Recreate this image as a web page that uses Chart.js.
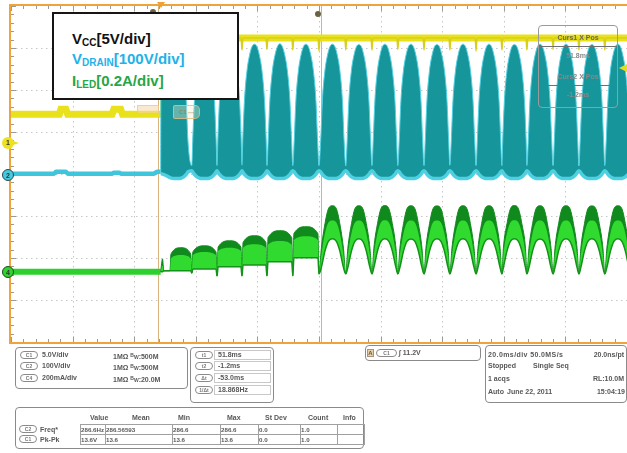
<!DOCTYPE html>
<html><head><meta charset="utf-8">
<script src="https://cdn.jsdelivr.net/npm/chart.js@4/dist/chart.umd.min.js"></script>
<style>
html,body{margin:0;padding:0;background:#fff;overflow:hidden;width:627px;height:453px;}
#wrap{position:relative;width:627px;height:453px;font-family:"Liberation Sans",Arial,sans-serif;}
canvas{position:absolute;left:0;top:0;}
.a{position:absolute;}
.box{position:absolute;border:1px solid #8a8a8a;border-radius:4px;box-sizing:border-box;}
.t{position:absolute;font-weight:bold;font-size:8px;color:#575757;white-space:nowrap;line-height:8px;}
.s7{font-size:7px;}
.s65{font-size:6.2px;}
.r{text-align:right;}
.pill{position:absolute;border:1px solid #8a8a8a;border-radius:5px;height:8px;box-sizing:border-box;font-weight:bold;font-size:5px;line-height:6px;color:#777;text-align:center;}
.cell{position:absolute;border:1px solid #a0a0a0;box-sizing:border-box;height:10px;}
#legend{position:absolute;left:52px;top:12px;width:187px;height:88px;border:2px solid #151515;background:#fff;box-sizing:border-box;}
#legend div{position:absolute;left:18px;font-weight:bold;font-size:15px;line-height:15px;white-space:nowrap;}
#legend sub{font-size:10px;vertical-align:-2px;}
.mk{position:absolute;width:12px;height:12px;border-radius:50%;box-sizing:border-box;font-size:7px;font-weight:bold;text-align:center;line-height:11px;color:#333;}
</style></head><body>
<div id="wrap">
<canvas id="c" width="627" height="453"></canvas>

<!-- cursor labels (faded) -->
<div class="a" style="left:137px;top:105px;width:20px;height:7px;background:rgba(245,215,170,0.55);border:1px solid rgba(230,190,140,0.6);"></div>
<div class="a" style="left:173px;top:105px;width:25px;height:12px;border:1px solid rgba(225,190,130,0.8);border-radius:2px 5px 5px 2px;background:rgba(250,235,200,0.35);font-size:6px;color:rgba(150,120,70,0.7);line-height:12px;text-align:center;font-weight:bold;">C1 ⋯</div>

<!-- cursor readout -->
<div class="box" style="left:538px;top:25px;width:80px;height:83px;border-color:#9a9a9a;"></div>
<div class="a" style="left:539px;top:46px;width:78px;height:1px;background:#707070;"></div>
<div class="a" style="left:539px;top:85px;width:78px;height:1px;background:#707070;"></div>
<div class="t" style="left:538px;width:80px;text-align:center;top:34px;font-size:7px;color:#6d6a40;">Curs1 X Pos</div>
<div class="t" style="left:538px;width:80px;text-align:center;top:52px;font-size:7px;color:#888;">51.8ms</div>
<div class="t" style="left:538px;width:80px;text-align:center;top:73px;font-size:7px;color:#888;">Curs2 X Pos</div>
<div class="t" style="left:538px;width:80px;text-align:center;top:91px;font-size:7px;color:#888;">-1.2ms</div>

<!-- top markers -->
<div class="a" style="left:150px;top:9px;width:6px;height:6px;border-radius:50%;background:#6b6340;"></div>
<div class="a" style="left:315px;top:11px;width:6px;height:6px;border-radius:50%;background:#6b6340;"></div>
<div class="a" style="left:157px;top:2px;width:0;height:0;border-left:4px solid transparent;border-right:4px solid transparent;border-top:6px solid #f0a030;"></div>
<!-- trigger level arrow -->
<div class="a" style="left:619px;top:64px;width:0;height:0;border-top:4px solid transparent;border-bottom:4px solid transparent;border-right:8px solid #e6dc20;"></div>

<!-- channel markers -->
<div class="a" style="left:10px;top:140px;width:0;height:0;border-top:3px solid transparent;border-bottom:3px solid transparent;border-left:9px solid #e8df1e;"></div>
<div class="mk" style="left:2px;top:137px;background:#ece31e;">1</div>
<div class="mk" style="left:2px;top:169px;background:#45cbe0;border:1.5px solid #2a4a50;">2</div>
<div class="mk" style="left:2px;top:266px;background:#2fd22f;border:1.5px solid #1c4a1c;">4</div>

<!-- legend -->
<div id="legend">
  <div style="top:17px;color:#111;">V<sub>CC</sub>[5V/div]</div>
  <div style="top:37px;color:#22b2e8;">V<sub>DRAIN</sub>[100V/div]</div>
  <div style="top:59px;color:#27a646;">I<sub>LED</sub>[0.2A/div]</div>
</div>

<!-- bottom panel: channel box -->
<div class="box" style="left:15px;top:347px;width:173px;height:42px;"></div>
<div class="pill" style="left:20px;top:351px;width:18px;">C1</div>
<div class="t s7" style="left:42px;top:351px;">5.0V/div</div>
<div class="t s7" style="left:113px;top:351px;">1MΩ <span style="font-size:5px;vertical-align:2px">B</span><span style="font-size:5px">W</span>:500M</div>
<div class="pill" style="left:20px;top:362px;width:18px;">C2</div>
<div class="t s7" style="left:42px;top:362px;">100V/div</div>
<div class="t s7" style="left:113px;top:362px;">1MΩ <span style="font-size:5px;vertical-align:2px">B</span><span style="font-size:5px">W</span>:500M</div>
<div class="pill" style="left:20px;top:374px;width:18px;">C4</div>
<div class="t s7" style="left:42px;top:374px;">200mA/div</div>
<div class="t s7" style="left:113px;top:374px;">1MΩ <span style="font-size:5px;vertical-align:2px">B</span><span style="font-size:5px">W</span>:20.0M</div>

<!-- cursor box -->
<div class="box" style="left:190px;top:347px;width:84px;height:56px;"></div>
<div class="cell" style="left:214px;top:350px;width:57px;border-color:#c8c8c8;"></div>
<div class="cell" style="left:214px;top:361px;width:57px;border-color:#c8c8c8;"></div>
<div class="cell" style="left:214px;top:373px;width:57px;border-color:#c8c8c8;"></div>
<div class="cell" style="left:214px;top:385px;width:57px;border-color:#c8c8c8;"></div>
<div class="pill" style="left:195px;top:351px;width:18px;">t1</div>
<div class="t s7" style="left:218px;top:351px;">51.8ms</div>
<div class="pill" style="left:195px;top:362px;width:18px;">t2</div>
<div class="t s7" style="left:218px;top:362px;">-1.2ms</div>
<div class="pill" style="left:195px;top:374px;width:18px;">Δt</div>
<div class="t s7" style="left:218px;top:374px;">-53.0ms</div>
<div class="pill" style="left:195px;top:386px;width:18px;">1/Δt</div>
<div class="t s7" style="left:218px;top:386px;">18.868Hz</div>

<!-- trigger box -->
<div class="box" style="left:365px;top:345px;width:116px;height:16px;"></div>
<div class="a" style="left:367px;top:349px;width:7px;height:8px;background:#e9cfa8;border:1px solid #b09070;box-sizing:border-box;font-size:6px;font-weight:bold;line-height:7px;text-align:center;color:#555;">A</div>
<div class="pill" style="left:376px;top:349px;width:21px;">C1</div>
<div class="t s7" style="left:399px;top:349px;">∫ 11.2V</div>

<!-- timebase box -->
<div class="box" style="left:485px;top:345px;width:142px;height:58px;"></div>
<div class="t s7" style="left:488px;top:351px;letter-spacing:0.4px;">20.0ms/div 50.0MS/s</div>
<div class="t s7 r" style="left:580px;width:44px;top:351px;">20.0ns/pt</div>
<div class="t s7" style="left:488px;top:362px;">Stopped</div>
<div class="t s7" style="left:533px;top:362px;">Single Seq</div>
<div class="t s7" style="left:488px;top:375px;">1 acqs</div>
<div class="t s7 r" style="left:580px;width:44px;top:375px;">RL:10.0M</div>
<div class="t s7" style="left:488px;top:388px;">Auto</div>
<div class="t s7" style="left:507px;top:388px;">June 22, 2011</div>
<div class="t s7 r" style="left:580px;width:45px;top:388px;">15:04:19</div>

<!-- measurement table -->
<div class="box" style="left:15px;top:407px;width:349px;height:42px;"></div>
<div class="t s7" style="left:90px;top:414px;">Value</div>
<div class="t s7" style="left:132px;top:414px;">Mean</div>
<div class="t s7" style="left:178px;top:414px;">Min</div>
<div class="t s7" style="left:227px;top:414px;">Max</div>
<div class="t s7" style="left:265px;top:414px;">St Dev</div>
<div class="t s7" style="left:308px;top:414px;">Count</div>
<div class="t s7" style="left:343px;top:414px;">Info</div>
<div id="rows"></div>
</div>

<script>
// ---------------- data ----------------
// time axis (ms) and cursors
const xMin = -49, xMax = 151, msPerDiv = 20;
const cursorT = [-1.2, 51.8];

// channel scales (units per division) and ground-marker positions (divisions above bottom)
const vccPerDiv = 5, drainPerDiv = 100, iledPerDiv = 0.2;
const vccGroundDiv = 4.73, drainGroundDiv = 3.96, iledGroundDiv = 1.67;

// VCC (V)
const vccT = [-49, -33.3, -32.8, -31.2, -30.6, -16.2, -15.6, -13.4, -12.8, 0.6, 0.9, 151];
const vccV = [3.46, 3.46, 4.06, 4.06, 3.46, 3.46, 4.06, 4.06, 3.46, 3.46, 12.54, 12.54];
const vccLevelV = 12.54;
const vccDipV = [11.2, 11.1, 11.1, 11.2, 11.1, 11.0, 11.1, 11.1, 11.2, 11.1, 11.1, 11.0, 11.1, 11.1, 11.2, 11.1, 11.1, 11.1];

// VDRAIN (V)
const drainPreT = [-49, -35.0, -34.4, -31.2, -30.6, -16.2, -15.6, -13.8, -13.2, -2.6, -1.6, -0.4];
const drainPreV = [4.8, 4.8, 9.5, 9.5, 4.8, 4.8, 7.2, 7.2, 4.8, 4.8, 9.5, 9.5];
const drainGapT = [-0.4, 9.7, 17.9, 26.0, 34.1, 42.5, 51.0, 59.7, 68.2, 76.6, 85.1, 93.5, 102.0, 110.4, 118.5, 127.0, 135.4, 143.8, 152.3];
const drainGapV = [9.5, 24, 24, 25, 24, 24, 24, 23, 24, 24, 24, 25, 24, 24, 24, 24, 23, 24, 24];
const drainPeakV = [313, 313, 312, 313, 314, 313, 313, 312, 313, 313, 312, 313, 313, 312, 313, 313, 312, 313];
const drainEdgeDt = [3.8, 3.25, 2.43, 1.62, 0.81];
const drainEdgeV = [83, 179, 250, 286, 307];
const drainRiseT = -0.3, drainRiseV = 262;
const drainFloorGapV = [4.8, 12, 12, 12, 12, 12, 12, 12, 12, 12, 12, 12, 12, 12, 12, 12, 12, 12, 12];
const drainFloorEdgeV = [9, 3, -3, -6, -7];
const drainFloorV = [-7, -7, -7, -7, -7, -7, -7, -7, -7, -7, -7, -7, -7, -7, -7, -7, -7, -7];

// ILED (A)
const iledPreT = [-49, -0.4];
const iledPreV = [0, 0];
const startT = [-0.4, 0.2, 0.6];
const startUpV = [0, 0.062, 0.005];
const startMidV = [0, 0.03, 0.005];
const startLowV = [0, 0, 0.005];
const bumpGapT = [2.6, 9.7, 17.9, 26.0, 34.1, 42.5, 51.0];
const bumpSpikeV = [0.005, -0.006, -0.019, -0.019, -0.019, -0.019];
const bumpTopV = [0.115, 0.124, 0.148, 0.172, 0.196, 0.215];
const bumpShoulderV = [0.085, 0.095, 0.118, 0.140, 0.163, 0.182];
const bumpMidV = [0.080, 0.095, 0.115, 0.131, 0.147, 0.170];
const bumpMidShoulderV = [0.065, 0.080, 0.100, 0.115, 0.130, 0.152];
const bumpBaseV = [0.005, 0.014, 0.024, 0.033, 0.048, 0.067];
const archGapT = [51.0, 59.7, 68.2, 76.6, 85.1, 93.5, 102.0, 110.4, 118.5, 127.0, 135.4, 143.8, 152.3];
const archGapV = [-0.01, -0.01, -0.01, -0.01, -0.01, -0.01, -0.01, -0.01, -0.01, -0.01, -0.01, -0.01, -0.01];
const archEdgeDt = [3.6, 2.4, 1.3];
const archUpEdgeV = [0.11, 0.23, 0.30];
const archMidEdgeV = [0.08, 0.185, 0.235];
const archLowEdgeV = [0.02, 0.10, 0.145];
const archUpPeakV = [0.315, 0.315, 0.316, 0.315, 0.314, 0.315, 0.315, 0.316, 0.315, 0.315, 0.314, 0.315];
const archMidPeakV = [0.245, 0.245, 0.246, 0.245, 0.244, 0.245, 0.245, 0.246, 0.245, 0.245, 0.244, 0.245];
const archLowPeakV = [0.158, 0.158, 0.158, 0.157, 0.158, 0.158, 0.158, 0.158, 0.157, 0.158, 0.158, 0.158];

// measurement table
const measRows = [
  {src: 'C2', name: 'Freq*', cells: ['286.6Hz', '286.56593', '286.6', '286.6', '0.0', '1.0', '']},
  {src: 'C1', name: 'Pk-Pk', cells: ['13.6V', '13.6', '13.6', '13.6', '0.0', '1.0', '']}
];

// ---------------- assembling point lists ----------------
const zip = (t, v) => t.map((x, i) => ({x, y: v[i]}));

function arches(gapT, gapV, peakV, edgeDt, edgeV, riseT, riseV, skipFirst) {
  const pts = [];
  for (let i = 0; i < peakV.length; i++) {
    const a = gapT[i], b = gapT[i + 1], c = (a + b) / 2;
    pts.push({x: a, y: gapV[i]});
    if (i === 0 && riseT != null) pts.push({x: riseT, y: riseV});
    for (let k = 0; k < edgeDt.length; k++) {
      if (i === 0 && k < skipFirst) continue;
      pts.push({x: c - edgeDt[k], y: edgeV[k]});
    }
    pts.push({x: c, y: peakV[i]});
    for (let k = edgeDt.length - 1; k >= 0; k--) pts.push({x: c + edgeDt[k], y: edgeV[k]});
  }
  pts.push({x: gapT[gapT.length - 1], y: gapV[gapV.length - 1]});
  return pts;
}

function bumps(gapT, spikeV, shoulderV, topV) {
  const pts = [];
  for (let i = 0; i < topV.length; i++) {
    const s = gapT[i], e = gapT[i + 1], c = (s + e) / 2;
    pts.push({x: s, y: spikeV[i]});
    pts.push({x: s + 0.35, y: shoulderV[i]});
    pts.push({x: c, y: topV[i]});
    pts.push({x: e - 0.35, y: shoulderV[i]});
  }
  return pts;
}

const drainUpPts = arches(drainGapT, drainGapV, drainPeakV, drainEdgeDt, drainEdgeV, drainRiseT, drainRiseV, 3);
const drainLowPts = arches(drainGapT, drainFloorGapV, drainFloorV, drainEdgeDt, drainFloorEdgeV, drainRiseT, 4.8, 3);

const vccDipPts = [];
drainGapT.slice(1).forEach((t, i) => {
  vccDipPts.push({x: t - 0.3, y: vccLevelV}, {x: t, y: vccDipV[i]}, {x: t + 0.3, y: vccLevelV});
});

const iledUpPts = zip(startT, startUpV).concat(bumps(bumpGapT, bumpSpikeV, bumpShoulderV, bumpTopV),
  arches(archGapT, archGapV, archUpPeakV, archEdgeDt, archUpEdgeV, null, null, 0));
const iledMidPts = zip(startT, startMidV).concat(bumps(bumpGapT, bumpSpikeV, bumpMidShoulderV, bumpMidV),
  arches(archGapT, archGapV, archMidPeakV, archEdgeDt, archMidEdgeV, null, null, 0));
const iledLowPts = zip(startT, startLowV).concat(bumps(bumpGapT, bumpSpikeV, bumpBaseV, bumpBaseV),
  arches(archGapT, archGapV, archLowPeakV, archEdgeDt, archLowEdgeV, null, null, 0));

// ---------------- colours ----------------
const C = {
  yellow: '#e9e11c', teal: '#16969b', cyanEdge: '#4fd0e2', cyan: '#3fc6dc',
  gDark: '#118a1d', gLight: '#30da2e', gEdge: '#15921a', gPre: '#2dd02d',
  orange: '#eea43a', grid: '#c6c6c6', tick: '#9a9a9a', cursor: '#d8b47c'
};

const common = {pointRadius: 0, cubicInterpolationMode: 'monotone', fill: false};
const datasets = [
  Object.assign({}, common, {data: drainLowPts, yAxisID: 'yDrain', borderColor: C.cyanEdge, borderWidth: 3.5, order: 2}),
  Object.assign({}, common, {data: drainUpPts, yAxisID: 'yDrain', borderColor: C.cyanEdge, borderWidth: 1, backgroundColor: C.teal, fill: {target: 0}, order: 3}),
  Object.assign({}, common, {data: vccDipPts, yAxisID: 'yVcc', borderColor: '#d8cf18', borderWidth: 1.5, order: 4}),
  Object.assign({}, common, {data: zip(vccT, vccV), yAxisID: 'yVcc', borderColor: C.yellow, borderWidth: 7, order: 5, cubicInterpolationMode: 'default', tension: 0}),
  Object.assign({}, common, {data: zip(drainPreT, drainPreV), yAxisID: 'yDrain', borderColor: C.cyan, borderWidth: 4.5, order: 6}),
  Object.assign({}, common, {data: iledLowPts, yAxisID: 'yIled', borderColor: C.gEdge, borderWidth: 1.5, order: 7}),
  Object.assign({}, common, {data: iledMidPts, yAxisID: 'yIled', borderWidth: 0, borderColor: 'rgba(0,0,0,0)', backgroundColor: C.gLight, fill: {target: 5}, order: 8}),
  Object.assign({}, common, {data: iledUpPts, yAxisID: 'yIled', borderColor: C.gDark, borderWidth: 1, backgroundColor: C.gDark, fill: {target: 5}, order: 9}),
  Object.assign({}, common, {data: zip(iledPreT, iledPreV), yAxisID: 'yIled', borderColor: C.gPre, borderWidth: 6, order: 10})
];

// ---------------- scope graticule ----------------
const scopeGrid = {
  id: 'scopeGrid',
  beforeDatasetsDraw(chart) {
    const {ctx, chartArea: a, scales} = chart;
    const xs = scales.x, yd = scales.yDiv;
    ctx.save();
    ctx.strokeStyle = C.grid; ctx.lineWidth = 1; ctx.setLineDash([1.5, 3.5]);
    for (let k = 1; k < 10; k++) {
      const px = Math.round(xs.getPixelForValue(xMin + k * msPerDiv)) + 0.5;
      ctx.beginPath(); ctx.moveTo(px, a.top); ctx.lineTo(px, a.bottom); ctx.stroke();
    }
    for (let k = 1; k < 8; k++) {
      const py = Math.round(yd.getPixelForValue(k)) + 0.5;
      ctx.beginPath(); ctx.moveTo(a.left, py); ctx.lineTo(a.right, py); ctx.stroke();
    }
    ctx.setLineDash([]);
    // cursors
    ctx.strokeStyle = C.cursor;
    cursorT.forEach(t => {
      const px = Math.round(xs.getPixelForValue(t)) + 0.5;
      ctx.beginPath(); ctx.moveTo(px, a.top); ctx.lineTo(px, a.bottom); ctx.stroke();
    });
    // edge ticks
    ctx.strokeStyle = C.tick;
    for (let k = 0; k <= 50; k++) {
      const px = Math.round(xs.getPixelForValue(xMin + k * msPerDiv / 5)) + 0.5;
      const len = k % 5 === 0 ? 5 : 3;
      ctx.beginPath(); ctx.moveTo(px, a.top); ctx.lineTo(px, a.top + len);
      ctx.moveTo(px, a.bottom); ctx.lineTo(px, a.bottom - len); ctx.stroke();
    }
    for (let k = 0; k <= 40; k++) {
      const py = Math.round(yd.getPixelForValue(k / 5)) + 0.5;
      const len = k % 5 === 0 ? 5 : 3;
      ctx.beginPath(); ctx.moveTo(a.left, py); ctx.lineTo(a.left + len, py); ctx.stroke();
    }
    ctx.restore();
  },
  afterDatasetsDraw(chart) {
    const {ctx, chartArea: a} = chart;
    ctx.save();
    ctx.strokeStyle = C.orange; ctx.lineWidth = 2;
    ctx.beginPath();
    ctx.moveTo(a.right + 2, a.top - 1); ctx.lineTo(a.left - 1, a.top - 1);
    ctx.lineTo(a.left - 1, a.bottom + 1); ctx.lineTo(a.right + 2, a.bottom + 1);
    ctx.stroke();
    ctx.restore();
  }
};

new Chart(document.getElementById('c'), {
  type: 'line',
  data: {datasets},
  options: {
    responsive: false, animation: false, devicePixelRatio: 1,
    layout: {padding: {left: 11, top: 6, right: 0, bottom: 111}},
    plugins: {legend: {display: false}, tooltip: {enabled: false}},
    scales: {
      x: {type: 'linear', min: xMin, max: xMax, display: false},
      yDiv: {type: 'linear', min: 0, max: 8, display: false},
      yVcc: {type: 'linear', min: -vccGroundDiv * vccPerDiv, max: (8 - vccGroundDiv) * vccPerDiv, display: false},
      yDrain: {type: 'linear', min: -drainGroundDiv * drainPerDiv, max: (8 - drainGroundDiv) * drainPerDiv, display: false},
      yIled: {type: 'linear', min: -iledGroundDiv * iledPerDiv, max: (8 - iledGroundDiv) * iledPerDiv, display: false}
    }
  },
  plugins: [scopeGrid]
});

// measurement rows (text)
const colX = [80, 105, 172, 220, 258, 300, 337, 364];
const rowsEl = document.getElementById('rows');
measRows.forEach((r, i) => {
  const top = 424 + i * 10;
  let h = '<div class="pill" style="left:19px;top:' + (top + 1) + 'px;width:18px;">' + r.src + '</div>' +
          '<div class="t s7" style="left:40px;top:' + (top + 2) + 'px;">' + r.name + '</div>';
  r.cells.forEach((v, j) => {
    h += '<div class="cell" style="left:' + colX[j] + 'px;top:' + top + 'px;width:' + (colX[j + 1] - colX[j] + 1) + 'px;height:11px;"></div>';
    h += '<div class="t s65" style="left:' + (colX[j] + 1) + 'px;top:' + (top + 2) + 'px;">' + v + '</div>';
  });
  rowsEl.insertAdjacentHTML('beforeend', h);
});
</script>
</body></html>
